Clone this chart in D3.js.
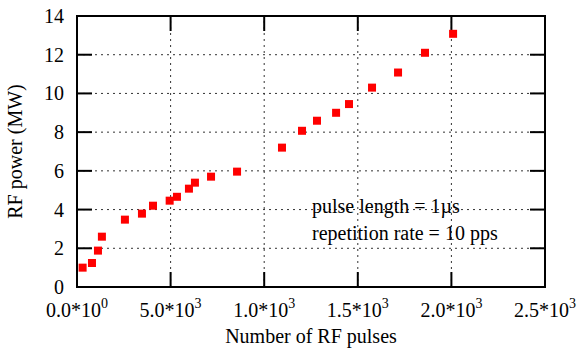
<!DOCTYPE html>
<html><head><meta charset="utf-8">
<script src="https://cdn.jsdelivr.net/npm/d3@7"></script>
<style>
html,body{margin:0;padding:0;background:#fff;}
</style></head>
<body>
<svg id="c" width="578" height="348" font-family="'Liberation Serif', 'Times New Roman', Times, 'DejaVu Serif', serif"></svg>
<script>
const pulses = [30, 80, 112, 133, 256, 347, 406, 495, 534, 598, 630, 716, 855, 1095, 1202, 1282, 1384, 1453, 1576, 1715, 1859, 2009];
const power  = [1.0, 1.24, 1.88, 2.6, 3.48, 3.79, 4.2, 4.46, 4.66, 5.08, 5.39, 5.7, 5.96, 7.2, 8.07, 8.59, 9.0, 9.45, 10.3, 11.08, 12.1, 13.08];
const xTicks = [0, 500, 1000, 1500, 2000, 2500];
const xTickMant = ["0.0", "5.0", "1.0", "1.5", "2.0", "2.5"];
const xTickExp = ["0", "3", "3", "3", "3", "3"];
const yTicks = [0, 2, 4, 6, 8, 10, 12, 14];
const annotations = ["pulse length = 1\u00b5s", "repetition rate = 10 pps"];

const W = 578, H = 348;
const m = {left: 77, top: 16, right: 33, bottom: 61};
const svg = d3.select("#c");
const x = d3.scaleLinear().domain([0, 2500]).range([m.left, W - m.right]);
const y = d3.scaleLinear().domain([0, 14]).range([H - m.bottom, m.top]);
const FS = 20, TL = 15;

// grid
const g = svg.append("g");
g.selectAll("line.gx").data(xTicks.slice(1, -1)).join("line")
  .attr("x1", d => x(d)).attr("x2", d => x(d))
  .attr("y1", y(0)).attr("y2", y(14))
  .attr("stroke", "#333").attr("stroke-width", 1).attr("stroke-dasharray", "2,4");
g.selectAll("line.gy").data(yTicks.slice(1, -1)).join("line")
  .attr("y1", d => y(d)).attr("y2", d => y(d))
  .attr("x1", x(0)).attr("x2", x(2500))
  .attr("stroke", "#333").attr("stroke-width", 1).attr("stroke-dasharray", "2,4");

// ticks (inward, mirrored)
const tk = svg.append("g").attr("stroke", "#000").attr("stroke-width", 2);
xTicks.forEach(d => {
  tk.append("line").attr("x1", x(d)).attr("x2", x(d)).attr("y1", y(0)).attr("y2", y(0) - TL);
  tk.append("line").attr("x1", x(d)).attr("x2", x(d)).attr("y1", y(14)).attr("y2", y(14) + TL);
});
yTicks.forEach(d => {
  tk.append("line").attr("y1", y(d)).attr("y2", y(d)).attr("x1", x(0)).attr("x2", x(0) + TL);
  tk.append("line").attr("y1", y(d)).attr("y2", y(d)).attr("x1", x(2500)).attr("x2", x(2500) - TL);
});

// points
svg.append("g").selectAll("rect").data(pulses.map((p, i) => [p, power[i]])).join("rect")
  .attr("x", d => x(d[0]) - 4).attr("y", d => y(d[1]) - 4)
  .attr("width", 8).attr("height", 8).attr("fill", "#ff0000");

// frame
svg.append("rect").attr("x", x(0)).attr("y", y(14))
  .attr("width", x(2500) - x(0)).attr("height", y(0) - y(14))
  .attr("fill", "none").attr("stroke", "#000").attr("stroke-width", 2);

// y tick labels
svg.append("g").selectAll("text").data(yTicks).join("text")
  .attr("x", 64).attr("y", d => y(d)).attr("dy", "0.35em")
  .attr("text-anchor", "end").attr("font-size", FS).text(d => d);

// x tick labels
xTicks.forEach((d, i) => {
  const t = svg.append("text").attr("x", x(d)).attr("y", 317)
    .attr("text-anchor", "middle").attr("font-size", FS);
  t.append("tspan").text(xTickMant[i] + "*10");
  t.append("tspan").attr("dy", -9).attr("font-size", 14).text(xTickExp[i]);
});

// axis titles
svg.append("text").attr("x", (x(0) + x(2500)) / 2).attr("y", 343)
  .attr("text-anchor", "middle").attr("font-size", FS).text("Number of RF pulses");
svg.append("text").attr("transform", `translate(22,${(y(0) + y(14)) / 2}) rotate(-90)`)
  .attr("text-anchor", "middle").attr("font-size", FS).text("RF power (MW)");

// annotations
annotations.forEach((s, i) => {
  svg.append("text").attr("x", 312).attr("y", 213 + i * 27)
    .attr("font-size", FS).text(s);
});
</script>
</body></html>
